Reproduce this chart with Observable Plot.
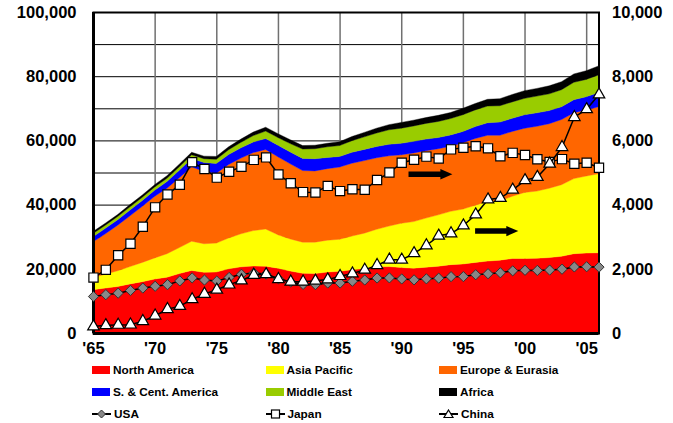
<!DOCTYPE html>
<html><head><meta charset="utf-8">
<script src="https://cdn.jsdelivr.net/npm/d3@7"></script>
<script src="https://cdn.jsdelivr.net/npm/@observablehq/plot@0.6"></script>
<style>
body{margin:0;background:#fff;}
#wrap{position:relative;width:673px;height:423px;font-family:"Liberation Sans",Arial,sans-serif;font-weight:bold;color:#000;}
.leg{position:absolute;font-size:11.8px;line-height:12px;height:12px;display:flex;align-items:center;white-space:nowrap;}
.sw{display:inline-block;width:18px;height:8px;margin-right:3px;}
.ic{margin-right:3px;}
</style></head><body><div id="wrap"></div>
<script>
const years = [1965,1966,1967,1968,1969,1970,1971,1972,1973,1974,1975,1976,1977,1978,1979,1980,1981,1982,1983,1984,1985,1986,1987,1988,1989,1990,1991,1992,1993,1994,1995,1996,1997,1998,1999,2000,2001,2002,2003,2004,2005,2006];

const regions = ["North America","Asia Pacific","Europe & Eurasia","S. & Cent. America","Middle East","Africa"];
const regionColors = ["#FF0000","#FFFF00","#FF6600","#0000FF","#99CC00","#000000"];

const northAmerica = [13500,14000,14500,15300,16000,16800,17400,18500,19500,18900, 19000,20000,20600,20900,20800,20200,19300,18600,18500,19000, 19200,19700,20100,20600,20700,20400,20200,20500,20800,21300, 21500,22000,22400,22700,23200,23200,23300,23500,23900,24700, 24900,25000];
const asiaPacific = [3800,4300,4900,5400,6000,6600,7300,8100,9100,8900, 9000,9600,10300,11000,11600,10400,10000,9700,9800,9900, 10000,10500,11000,11700,12600,13800,14500,15300,16000,16600, 17100,17800,18600,18400,19400,20600,20900,21600,22300,23400, 24000,24600];
const europeEurasia = [11100,12600,14200,15800,17500,19200,20400,21800,23200,22500, 21800,22900,23600,24300,24800,24300,23400,22300,22200,22300, 22500,22700,22600,22300,21900,21300,21400,21000,20600,20300, 20700,20800,20600,20500,20200,20000,20200,20100,20300,20500, 20600,20900];
const sCentAmerica = [1600,1700,1700,1800,1800,1900,2100,2300,2600,2800, 3000,3100,3200,3300,3400,3600,3700,3800,3800,3500, 3300,3400,3500,3500,3600,3600,3600,3600,3500,3500, 3500,3700,3900,4100,4100,4200,4200,4100,4000,4100, 4100,4400];
const middleEast = [1000,1000,1000,1000,1000,1000,1000,1100,1100,1200, 1300,1500,1700,2000,2300,2400,2600,2900,3100,3300, 3400,3600,3900,4200,4500,4700,4800,4900,5000,5100, 5200,5200,5200,5100,5100,5100,5200,5200,5300,5400, 5400,5500];
const africa = [600,600,600,700,700,700,800,800,800,800, 900,900,1000,1100,1200,1200,1200,1100,1100,1100, 1200,1300,1400,1500,1600,1800,1800,1800,1900,1900, 2000,2000,2100,2200,2300,2400,2400,2500,2500,2600, 2700,2800];
const regionValues = [northAmerica, asiaPacific, europeEurasia, sCentAmerica, middleEast, africa];

// USA on left axis; Japan and China on right axis (thousand b/d)
const usa = [11522,12100,12567,13405,14153,14710,15223,16381,17318,16653, 16322,17461,18431,18847,18513,17056,16058,15296,15231,15726, 15726,16281,16665,17283,17325,16988,16714,17033,17237,17718, 17725,18309,18620,18917,19519,19701,19649,19761,20033,20732, 20802,20687];
const japan = [1741,1983,2440,2798,3327,3930,4328,4636,5338,5123, 4855,5040,5197,5409,5486,4955,4681,4404,4395,4598, 4436,4492,4477,4781,5015,5317,5413,5510,5450,5736, 5788,5835,5768,5522,5627,5561,5426,5346,5432,5286, 5319,5164];
const china = [217,254,268,275,382,554,756,853,1063,1232, 1361,1522,1650,1823,1845,1691,1612,1613,1641,1679, 1786,1867,1982,2126,2298,2296,2498,2742,3043,3115, 3363,3705,4173,4220,4477,4772,4872,5288,5803,6738, 6984,7445];

const leftTicks = [0,20000,40000,60000,80000,100000];
const leftTickLabels = ["0","20,000","40,000","60,000","80,000","100,000"];
const rightTickLabels = ["0","2,000","4,000","6,000","8,000","10,000"];
const gridYValues = [10000,20000,30000,40000,50000,60000,70000,80000,90000];
const xTicks = [1965,1970,1975,1980,1985,1990,1995,2000,2005];
const xTickLabels = ["'65","'70","'75","'80","'85","'90","'95","'00","'05"];
const gridXValues = [1970,1975,1980,1985,1990,1995,2000,2005];

// arrows pointing to the right-hand axis (right-axis units)
const arrowShafts = [{x1:1990.55,x2:1993.3,y:4960},{x1:1995.95,x2:1998.6,y:3190}];
const arrowHeads = [{x:1993.62,y:4960},{x:1998.97,y:3190}];

const rightScale = 10; // right axis 0-10,000 spans the same height as 0-100,000

const stackRows = regions.flatMap((r,i)=>years.map((yr,j)=>({year:yr,region:r,value:regionValues[i][j]})));
const rows = years.map((yr,j)=>({year:yr,usa:usa[j],japan:japan[j]*rightScale,china:china[j]*rightScale}));
const shafts = arrowShafts.map(a=>({x1:a.x1,x2:a.x2,y:a.y*rightScale}));
const heads = arrowHeads.map(a=>({x:a.x,y:a.y*rightScale}));

const headSymbol = {draw(ctx){ctx.moveTo(6,0);ctx.lineTo(-6,-5.2);ctx.lineTo(-6,5.2);ctx.closePath();}};

const axisFont = {fontSize:16.5, fontWeight:"bold", fill:"black"};

const chart = Plot.plot({
  width: 673, height: 362,
  marginLeft: 93, marginRight: 74.5, marginTop: 12, marginBottom: 29,
  x: {domain:[1965,2006]},
  y: {domain:[0,100000]},
  color: {domain: regions, range: regionColors},
  style: {fontFamily:'"Liberation Sans", Arial, sans-serif', fontWeight:"bold", fontSize:"16.5px", color:"black", background:"white", overflow:"visible"},
  marks: [
    Plot.gridY(gridYValues, {stroke:"black", strokeOpacity:1, strokeWidth:1}),
    Plot.gridX(gridXValues, {stroke:"#707070", strokeOpacity:1, strokeWidth:1.5}),
    Plot.areaY(stackRows, {x:"year", y:"value", fill:"region", stroke:"region", strokeWidth:0.4, order: regions}),
    Plot.frame({stroke:"black", strokeWidth:2}),
    Plot.ruleX([1965], {stroke:"black", strokeWidth:3}),
    Plot.ruleY([0], {stroke:"black", strokeWidth:3}),
    Plot.axisY(leftTicks, {anchor:"left", tickSize:0, tickPadding:17, tickFormat:(d,i)=>leftTickLabels[i], label:null, ...axisFont}),
    Plot.axisY(leftTicks, {anchor:"right", tickSize:0, tickPadding:13, tickFormat:(d,i)=>rightTickLabels[i], label:null, ...axisFont}),
    Plot.axisX(xTicks, {tickSize:0, tickPadding:9, tickFormat:(d,i)=>xTickLabels[i], label:null, ...axisFont}),
    Plot.line(rows, {x:"year", y:"usa", stroke:"black", strokeWidth:1.5}),
    Plot.dot(rows, {x:"year", y:"usa", symbol:"diamond2", r:4.6, fill:"#888888", stroke:"#333333", strokeWidth:1}),
    Plot.line(rows, {x:"year", y:"japan", stroke:"black", strokeWidth:1.5}),
    Plot.dot(rows, {x:"year", y:"japan", symbol:"square", r:5.2, fill:"white", stroke:"black", strokeWidth:1.2}),
    Plot.line(rows, {x:"year", y:"china", stroke:"black", strokeWidth:1.5}),
    Plot.dot(rows, {x:"year", y:"china", symbol:"triangle", r:4.3, fill:"white", stroke:"black", strokeWidth:1.2}),
    Plot.link(shafts, {x1:"x1", x2:"x2", y1:"y", y2:"y", stroke:"black", strokeWidth:5.5, strokeLinecap:"butt"}),
    Plot.dot(heads, {x:"x", y:"y", symbol: headSymbol, r:5, fill:"black", stroke:"none"})
  ]
});
const wrap = document.getElementById("wrap");
chart.style.position = "absolute"; chart.style.left = "0"; chart.style.top = "0";
wrap.appendChild(chart);

// legend
const legendCols = [92, 265.5, 439];
const legendRows = [364, 386, 408];
const legendItems = [
  {label:"North America", kind:"sw", color:"#FF0000"},
  {label:"Asia Pacific", kind:"sw", color:"#FFFF00"},
  {label:"Europe & Eurasia", kind:"sw", color:"#FF6600"},
  {label:"S. & Cent. America", kind:"sw", color:"#0000FF"},
  {label:"Middle East", kind:"sw", color:"#99CC00"},
  {label:"Africa", kind:"sw", color:"#000000"},
  {label:"USA", kind:"usa"},
  {label:"Japan", kind:"japan"},
  {label:"China", kind:"china"}
];
legendItems.forEach((it,k)=>{
  const d = document.createElement("div");
  d.className = "leg";
  d.style.left = legendCols[k%3] + "px";
  d.style.top = legendRows[Math.floor(k/3)] + "px";
  let icon;
  if (it.kind === "sw") {
    icon = `<span class="sw" style="background:${it.color}"></span>`;
  } else {
    let m = "";
    if (it.kind === "usa") m = `<path d="M9.5,1 L13.5,5 L9.5,9 L5.5,5 Z" fill="#888" stroke="#333" stroke-width="1"/>`;
    if (it.kind === "japan") m = `<rect x="5.5" y="1" width="8" height="8" fill="white" stroke="black" stroke-width="1.2"/>`;
    if (it.kind === "china") m = `<path d="M9.5,1 L14,8.5 L5,8.5 Z" fill="white" stroke="black" stroke-width="1.2"/>`;
    icon = `<svg class="ic" width="19" height="10" viewBox="0 0 19 10"><line x1="0" y1="5" x2="19" y2="5" stroke="black" stroke-width="2"/>${m}</svg>`;
  }
  d.innerHTML = icon + `<span>${it.label}</span>`;
  wrap.appendChild(d);
});
</script></body></html>
